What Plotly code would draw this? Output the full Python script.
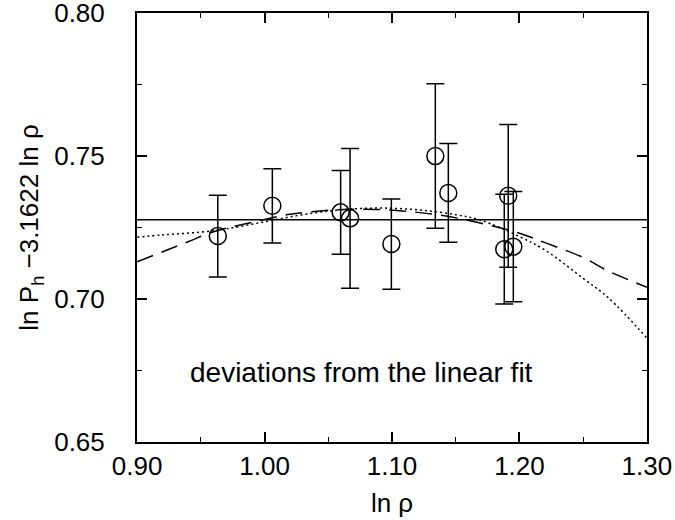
import plotly.graph_objects as go

# data points
ln_rho = [0.9633, 1.0061, 1.0597, 1.0671, 1.0995, 1.1340, 1.1442, 1.1881, 1.1912, 1.1952]
dev = [0.7220, 0.7326, 0.7303, 0.7282, 0.7192, 0.7500, 0.7371, 0.7174, 0.7361, 0.7183]
err = [0.0143, 0.0130, 0.0147, 0.0245, 0.0158, 0.0253, 0.0173, 0.0192, 0.0250, 0.0193]

# linear fit (horizontal line)
lin_x = [0.90, 1.30]
lin_y = [0.7277, 0.7277]

# quadratic fit (dashed)
quad_x = [0.90, 0.92, 0.94, 0.96, 1.00, 1.02, 1.05, 1.08, 1.11, 1.14, 1.17, 1.20, 1.22, 1.25, 1.27, 1.30]
quad_y = [0.7130, 0.7165, 0.7200, 0.7235, 0.7278, 0.7296, 0.7310, 0.7314, 0.7307, 0.7292,
          0.7265, 0.7230, 0.7197, 0.7145, 0.7097, 0.7041]

# cubic fit (dotted)
cub_x = [0.90, 0.92, 0.95, 0.97, 1.00, 1.03, 1.06, 1.09, 1.12, 1.15, 1.17, 1.20, 1.22, 1.25, 1.27, 1.30]
cub_y = [0.7216, 0.7224, 0.7234, 0.7245, 0.7270, 0.7295, 0.7312, 0.7318, 0.7312, 0.7295,
         0.7275, 0.7218, 0.7171, 0.7072, 0.7003, 0.6863]

x_ticks = [0.90, 1.00, 1.10, 1.20, 1.30]
x_labels = ["0.90", "1.00", "1.10", "1.20", "1.30"]
y_ticks = [0.65, 0.70, 0.75, 0.80]
y_labels = ["0.65", "0.70", "0.75", "0.80"]

FONT = "Liberation Sans"

fig = go.Figure()
fig.add_trace(go.Scatter(x=lin_x, y=lin_y, mode="lines",
                         line=dict(color="black", width=1.5), showlegend=False))
fig.add_trace(go.Scatter(x=quad_x, y=quad_y, mode="lines", line_shape="spline",
                         line=dict(color="black", width=1.5, dash="17px,9px"), showlegend=False))
fig.add_trace(go.Scatter(x=cub_x, y=cub_y, mode="lines", line_shape="spline",
                         line=dict(color="black", width=1.5, dash="2px,3px"), showlegend=False))
fig.add_trace(go.Scatter(x=ln_rho, y=dev, mode="markers",
                         marker=dict(symbol="circle-open", size=17, color="black",
                                     line=dict(width=1.5, color="black")),
                         error_y=dict(type="data", array=err, visible=True,
                                      color="black", thickness=1.5, width=9),
                         showlegend=False))

fig.add_annotation(x=1.076, y=0.6741, text="deviations from the linear fit",
                   showarrow=False, font=dict(family=FONT, size=28, color="black"))

fig.update_xaxes(range=[0.8999, 1.3001], tickvals=x_ticks, ticktext=x_labels,
                 ticks="inside", ticklen=10, tickwidth=1.5, tickcolor="black",
                 minor=dict(ticks="inside", ticklen=5, tickwidth=1, dtick=0.05, tickcolor="black"),
                 showline=True, linewidth=2, linecolor="black", mirror="allticks",
                 showgrid=False, zeroline=False, automargin=False,
                 ticklabeloverflow="allow", ticklabelstandoff=0,
                 tickfont=dict(family=FONT, size=26, color="black"),
                 title=dict(text="ln ρ", font=dict(family=FONT, size=26, color="black"), standoff=14))
fig.update_yaxes(range=[0.6499, 0.8001], tickvals=y_ticks, ticktext=y_labels,
                 ticks="inside", ticklen=10, tickwidth=1.5, tickcolor="black",
                 minor=dict(ticks="inside", ticklen=5, tickwidth=1, dtick=0.025, tickcolor="black"),
                 showline=True, linewidth=2, linecolor="black", mirror="allticks",
                 showgrid=False, zeroline=False, automargin=False,
                 ticklabeloverflow="allow", ticklabelstandoff=25,
                 tickfont=dict(family=FONT, size=26, color="black"),
                 title=dict(text="ln P<sub>h</sub> −3.1622 ln ρ",
                            font=dict(family=FONT, size=26, color="black"), standoff=8))

fig.update_layout(width=675, height=520, plot_bgcolor="white", paper_bgcolor="white",
                  margin=dict(l=137, r=28, t=13, b=78))

# remove the default page-body margin so the figure fills the window
fig.write_html("out.html", config={"displayModeBar": False},
               post_script="document.body.style.margin='0';document.body.style.overflow='hidden';")
